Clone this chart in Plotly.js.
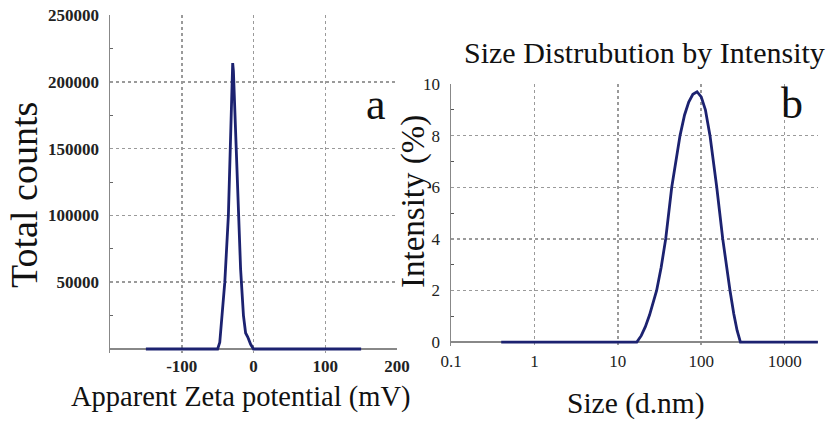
<!DOCTYPE html>
<html><head><meta charset="utf-8">
<script src="https://cdn.plot.ly/plotly-3.0.1.min.js"></script>
<style>html,body{margin:0;padding:0;background:#fff}#chart{width:829px;height:421px}</style>
</head><body><div id="chart"></div>
<script>
// Panel a: zeta potential distribution
const zetaMV = [-150, -50, -47, -44, -40, -35, -32, -30, -29, -28, -26, -22, -18, -14, -11, -8, -4, 0, 150];
const zetaCounts = [0, 0, 5000, 25000, 50000, 100000, 160000, 205000, 214000, 208000, 180000, 110000, 60000, 25000, 12000, 9000, 3500, 0, 0];
// Panel b: size distribution by intensity
const sizeNm = [0.4, 16.9, 19.1, 21.4, 24.0, 26.3, 29.2, 33.1, 37.5, 44.3, 50.1, 55.7, 63.1, 70.8, 79.4, 89.1, 100, 112.2, 127.4, 153.5, 181.1, 199.5, 221.3, 245.5, 269.2, 295.1, 2500];
const intensityPct = [0, 0, 0.25, 0.6, 1.05, 1.5, 2.0, 2.9, 4.0, 6.0, 7.1, 8.0, 8.8, 9.3, 9.6, 9.7, 9.5, 9.0, 8.0, 6.0, 4.0, 3.0, 2.0, 1.1, 0.45, 0, 0];
const zetaTicks = [-100, 0, 100, 200];
const countTicks = [50000, 100000, 150000, 200000, 250000];
const sizeTicks = [0.1, 1, 10, 100, 1000];
const sizeTickText = ['0.1', '1', '10', '100', '1000'];
const intTicks = [0, 2, 4, 6, 8, 10];

const W = 829, H = 421;
const px = v => v / W, py = v => 1 - v / H;
const lineCol = '#1c2270';
const gridCol = '#9a9a9a';
const serif = 'Liberation Serif';
const tickFontA = {family: serif, size: 17, color: '#222', weight: 'bold'};
const tickFontB = {family: serif, size: 17, color: '#222'};

const data = [
  {x: zetaMV, y: zetaCounts, type: 'scatter', mode: 'lines', xaxis: 'x', yaxis: 'y',
   line: {color: lineCol, width: 2.8}, hoverinfo: 'skip'},
  {x: sizeNm, y: intensityPct, type: 'scatter', mode: 'lines', xaxis: 'x2', yaxis: 'y2',
   line: {color: lineCol, width: 2.8}, hoverinfo: 'skip'}
];

const layout = {
  width: W, height: H,
  margin: {l: 0, r: 0, t: 0, b: 0},
  paper_bgcolor: '#fff', plot_bgcolor: '#fff',
  showlegend: false,
  xaxis: {
    domain: [px(110), px(397)], range: [-200, 200], anchor: 'y',
    tickvals: zetaTicks, ticktext: zetaTicks.map(String), tickfont: tickFontA,
    showgrid: true, gridcolor: gridCol, griddash: 'dot', gridwidth: 1.5,
    zeroline: false, showline: false,
    ticks: '', ticklabelstandoff: 1
  },
  yaxis: {
    domain: [py(353), py(15)], range: [-3000, 250000], anchor: 'x',
    tickvals: countTicks, ticktext: countTicks.map(String), tickfont: tickFontA,
    showgrid: true, gridcolor: gridCol, griddash: 'dot', gridwidth: 1.5,
    zeroline: true, zerolinecolor: '#888', zerolinewidth: 1.5,
    showline: true, linecolor: '#888', linewidth: 1.5,
    ticks: '', ticklabelstandoff: 6,
    minor: {tickvals: [25000, 75000, 125000, 175000, 225000], ticks: 'inside', ticklen: 3, tickcolor: '#666', showgrid: false}
  },
  xaxis2: {
    domain: [px(451), px(818)], type: 'log', range: [-1, 3.4], anchor: 'y2',
    tickvals: sizeTicks, ticktext: sizeTickText, tickfont: tickFontB,
    showgrid: true, gridcolor: gridCol, griddash: 'dot', gridwidth: 1.5,
    zeroline: false, showline: false,
    ticks: '', ticklabelstandoff: 3
  },
  yaxis2: {
    domain: [py(346), py(84)], range: [-0.15, 10], anchor: 'x2',
    tickvals: intTicks, ticktext: intTicks.map(String), tickfont: tickFontB,
    showgrid: true, gridcolor: gridCol, griddash: 'dot', gridwidth: 1.5,
    zeroline: true, zerolinecolor: '#888', zerolinewidth: 1.5,
    showline: true, linecolor: '#888', linewidth: 1.5,
    ticks: '', ticklabelstandoff: 6,
    minor: {tickvals: [1, 3, 5, 7, 9], ticks: 'inside', ticklen: 3, tickcolor: '#555', showgrid: false}
  },
  annotations: [
    {text: 'Total counts', xref: 'paper', yref: 'paper', x: px(24), y: py(195), textangle: -90,
     showarrow: false, font: {family: serif, size: 38, color: '#111'}, xanchor: 'center', yanchor: 'middle'},
    {text: 'Apparent Zeta potential (mV)', xref: 'paper', yref: 'paper', x: px(241), y: py(397),
     showarrow: false, font: {family: serif, size: 28.5, color: '#111'}, xanchor: 'center', yanchor: 'middle'},
    {text: 'a', xref: 'paper', yref: 'paper', x: px(376), y: py(105),
     showarrow: false, font: {family: serif, size: 44, color: '#111'}, xanchor: 'center', yanchor: 'middle'},
    {text: 'Size Distrubution by Intensity', xref: 'paper', yref: 'paper', x: px(644), y: py(53),
     showarrow: false, font: {family: serif, size: 30, color: '#111'}, xanchor: 'center', yanchor: 'middle'},
    {text: 'Intensity (%)', xref: 'paper', yref: 'paper', x: px(413), y: py(202), textangle: -90,
     showarrow: false, font: {family: serif, size: 33, color: '#111'}, xanchor: 'center', yanchor: 'middle'},
    {text: 'Size (d.nm)', xref: 'paper', yref: 'paper', x: px(636), y: py(403),
     showarrow: false, font: {family: serif, size: 29.5, color: '#111'}, xanchor: 'center', yanchor: 'middle'},
    {text: 'b', xref: 'paper', yref: 'paper', x: px(792), y: py(104),
     showarrow: false, font: {family: serif, size: 44, color: '#111'}, xanchor: 'center', yanchor: 'middle'}
  ]
};

Plotly.newPlot('chart', data, layout, {displayModeBar: false, staticPlot: true});
</script>
</body></html>
